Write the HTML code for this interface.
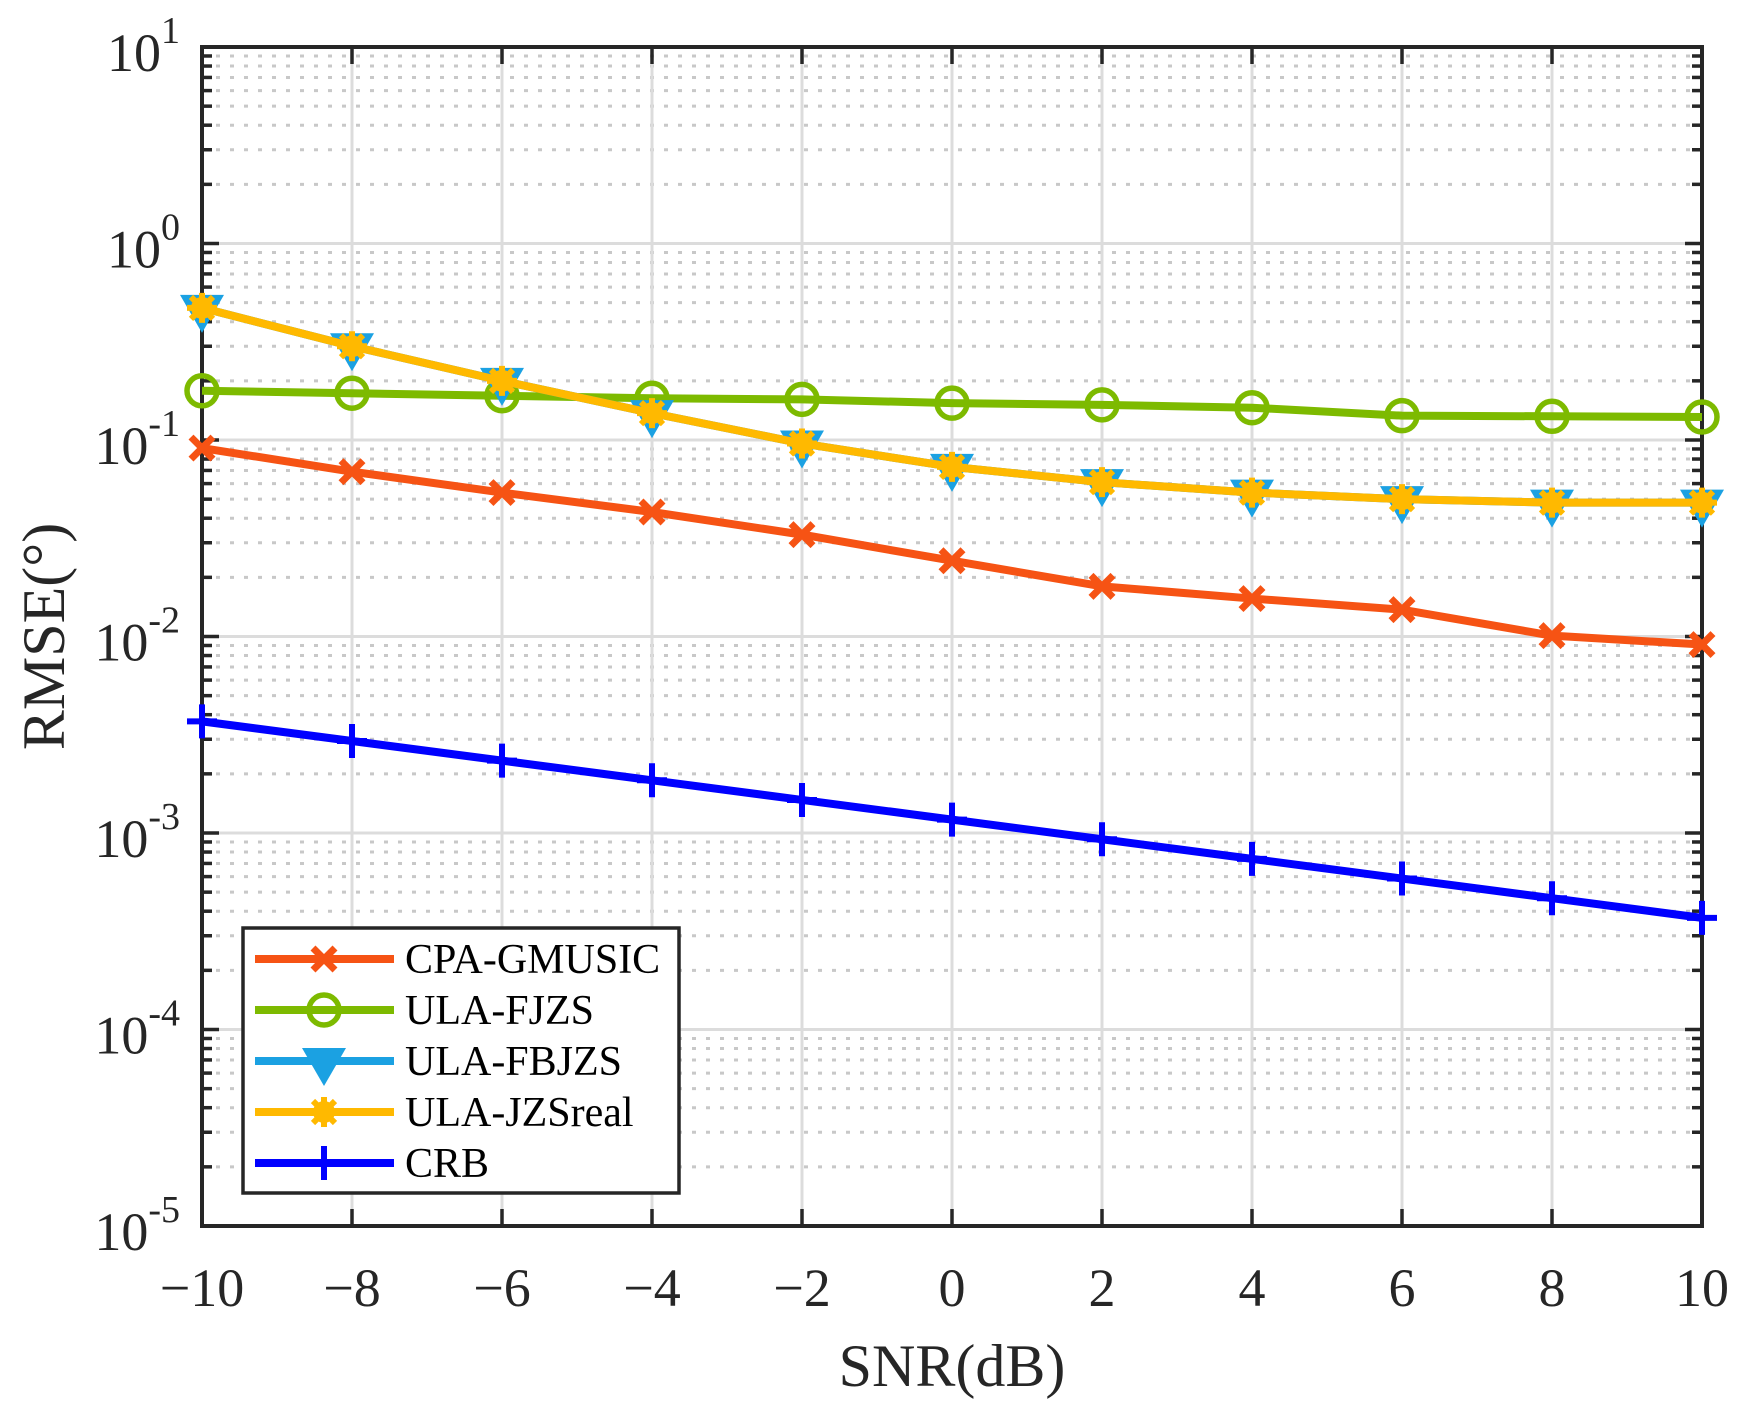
<!DOCTYPE html>
<html><head><meta charset="utf-8"><style>
html,body{margin:0;padding:0;background:#fff;}
svg{display:block;font-family:"Liberation Serif",serif;}
</style></head><body>
<svg id="s" width="1744" height="1405" xmlns="http://www.w3.org/2000/svg"></svg>
<script>
const s=document.getElementById('s');
const L=202,R=1702,T=47,B=1226,D=(B-T)/6;
const X=v=>L+(v+10)*75, Y=v=>T+(1-Math.log10(v))*D;
let h='';
for(let e=-5;e<1;e++)for(let m=2;m<10;m++){const y=Y(m*Math.pow(10,e));
h+=`<line x1="${L}" x2="${R}" y1="${y}" y2="${y}" stroke="#c8c8c8" stroke-width="3" stroke-dasharray="4,10"/>`;
h+=`<line x1="${L}" x2="${L+10}" y1="${y}" y2="${y}" stroke="#262626" stroke-width="3.5"/><line x1="${R-10}" x2="${R}" y1="${y}" y2="${y}" stroke="#262626" stroke-width="3.5"/>`;}
for(let e=-4;e<1;e++){const y=Y(Math.pow(10,e));h+=`<line x1="${L}" x2="${R}" y1="${y}" y2="${y}" stroke="#dcdcdc" stroke-width="3"/>`;}
for(let v=-8;v<10;v+=2){const x=X(v);h+=`<line x1="${x}" x2="${x}" y1="${T}" y2="${B}" stroke="#dcdcdc" stroke-width="3"/>`;}
for(let e=-5;e<=1;e++){const y=Y(Math.pow(10,e));h+=`<line x1="${L}" x2="${L+17}" y1="${y}" y2="${y}" stroke="#262626" stroke-width="3.5"/><line x1="${R-17}" x2="${R}" y1="${y}" y2="${y}" stroke="#262626" stroke-width="3.5"/>`;
h+=`<text x="${L-22}" y="${y+24}" font-size="54" text-anchor="end" fill="#262626">10<tspan dy="-28" font-size="38">${e<0?'-'+(-e):e}</tspan></text>`;}
for(let v=-10;v<=10;v+=2){const x=X(v);h+=`<line x1="${x}" x2="${x}" y1="${B}" y2="${B-17}" stroke="#262626" stroke-width="3.5"/><line x1="${x}" x2="${x}" y1="${T}" y2="${T+17}" stroke="#262626" stroke-width="3.5"/>`;
h+=`<text x="${x}" y="1306" font-size="54" text-anchor="middle" fill="#262626">${v<0?'\u2212'+(-v):v}</text>`;}
h+=`<rect x="${L}" y="${T}" width="${R-L}" height="${B-T}" fill="none" stroke="#262626" stroke-width="4"/>`;
h+=`<text x="${(L+R)/2}" y="1386" font-size="60" text-anchor="middle" fill="#262626">SNR(dB)</text>`;
h+=`<text transform="translate(64,${(T+B)/2}) rotate(-90)" font-size="60" text-anchor="middle" fill="#262626">RMSE(°)</text>`;
const xs=[-10,-8,-6,-4,-2,0,2,4,6,8,10];
const cpa=[0.091,0.069,0.054,0.043,0.033,0.0243,0.018,0.0156,0.0137,0.0101,0.0091];
const fj=[0.178,0.173,0.168,0.163,0.161,0.154,0.151,0.146,0.133,0.132,0.131];
const jz=[0.47,0.30,0.2,0.137,0.096,0.073,0.061,0.054,0.050,0.048,0.048];
const crb=xs.map((v,i)=>0.0037*Math.pow(10,-0.1*i));
function mk(t,x,y,c){
 if(t=='x')return `<path d="M${x-11},${y-11}L${x+11},${y+11}M${x-11},${y+11}L${x+11},${y-11}" stroke="${c}" stroke-width="7"/>`;
 if(t=='o')return `<circle cx="${x}" cy="${y}" r="15" fill="none" stroke="${c}" stroke-width="5.5"/>`;
 if(t=='v')return `<path d="M${x-22},${y-13}L${x+22},${y-13}L${x},${y+25}Z" fill="${c}"/>`;
 if(t=='*')return `<circle cx="${x}" cy="${y}" r="11" fill="${c}"/><path d="M${x-15},${y}L${x+15},${y}M${x},${y-15}L${x},${y+15}M${x-11},${y-11}L${x+11},${y+11}M${x-11},${y+11}L${x+11},${y-11}" stroke="${c}" stroke-width="6"/>`;
 if(t=='+')return `<path d="M${x-15},${y}L${x+15},${y}M${x},${y-17}L${x},${y+17}" stroke="${c}" stroke-width="6"/>`;
}
function ser(d,c,t){let p=d.map((v,i)=>`${X(xs[i])},${Y(v)}`).join(' ');
 h+=`<polyline points="${p}" fill="none" stroke="${c}" stroke-width="8" stroke-linejoin="round"/>`;
 d.forEach((v,i)=>h+=mk(t,X(xs[i]),Y(v),c));}
ser(cpa,'#F65314','x');ser(fj,'#7DBA00','o');ser(jz,'#1BA1E2','v');ser(jz,'#FFB900','*');ser(crb,'#0000FF','+');
h+=`<rect x="243" y="928" width="436" height="265" fill="#fff" stroke="#262626" stroke-width="3.5"/>`;
const lg=[['CPA-GMUSIC','#F65314','x'],['ULA-FJZS','#7DBA00','o'],['ULA-FBJZS','#1BA1E2','v'],['ULA-JZSreal','#FFB900','*'],['CRB','#0000FF','+']];
lg.forEach((e,i)=>{const y=959+i*51;h+=`<line x1="255" x2="394" y1="${y}" y2="${y}" stroke="${e[1]}" stroke-width="8"/>`;
 h+=mk(e[2],324,y,e[1]);h+=`<text x="405" y="${y+14}" font-size="42" fill="#000">${e[0]}</text>`;});
s.innerHTML=h;
</script>
</body></html>
